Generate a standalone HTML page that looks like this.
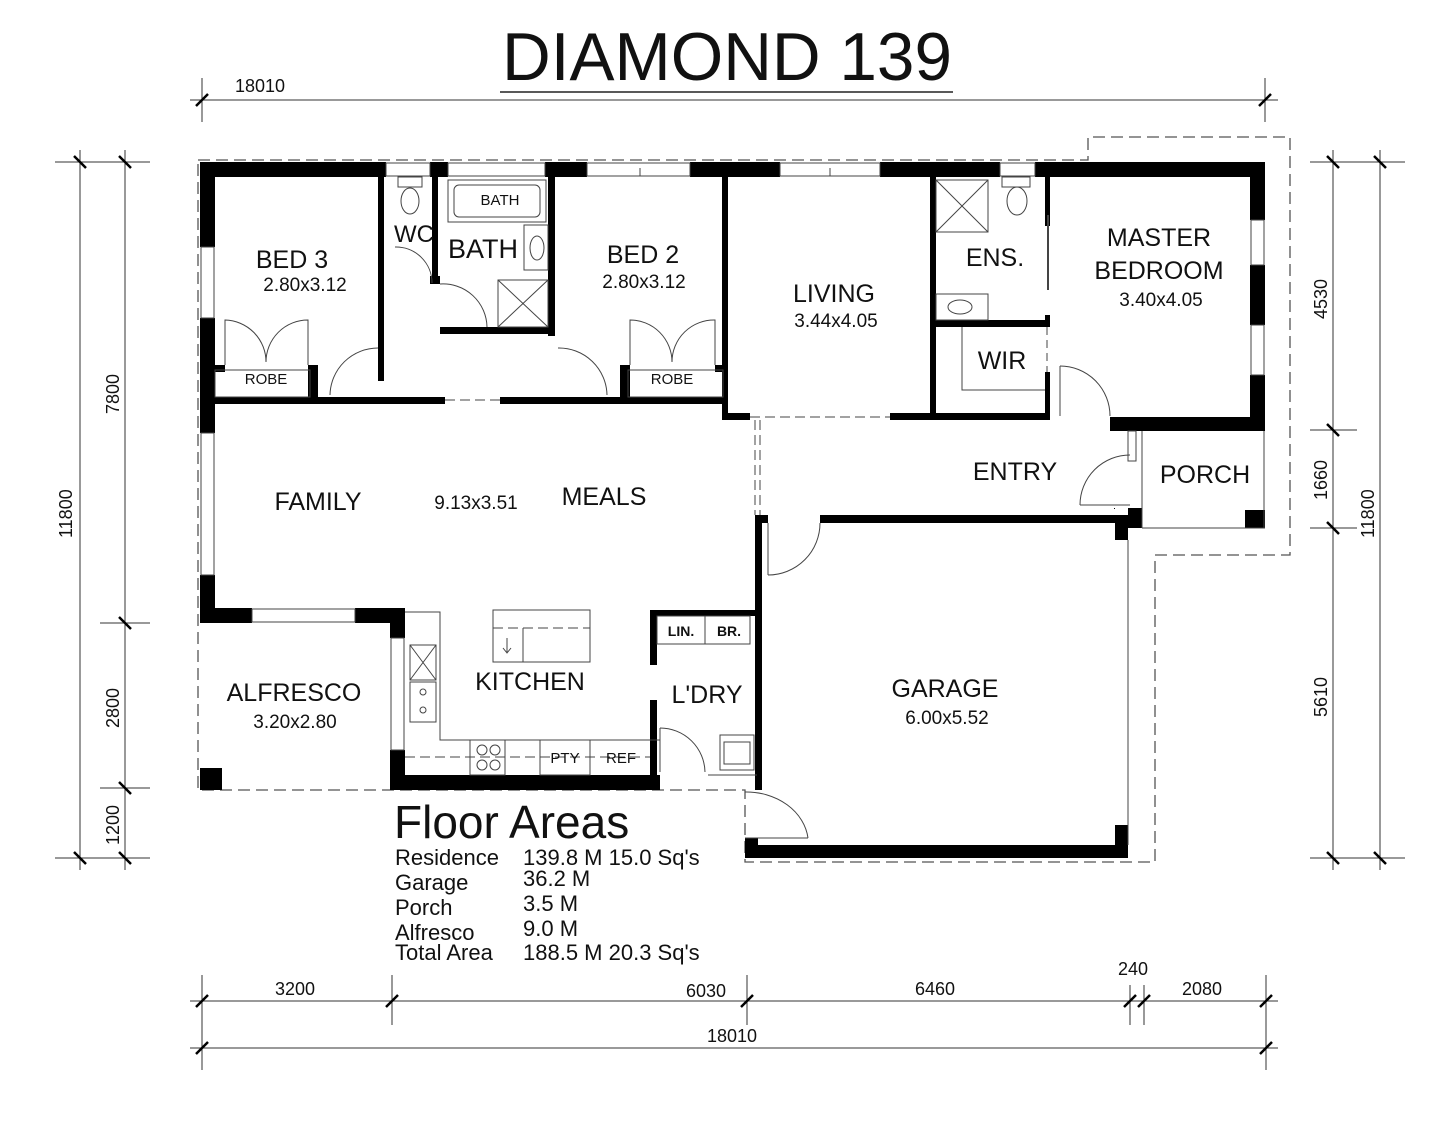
<!DOCTYPE html>
<html><head><meta charset="utf-8"><style>
html,body{margin:0;padding:0;background:#fff;}
svg{display:block;}
text{font-family:"Liberation Sans",sans-serif;fill:#111;}
</style></head><body>
<svg width="1441" height="1128" viewBox="0 0 1441 1128" xmlns="http://www.w3.org/2000/svg">
<rect width="1441" height="1128" fill="#fff"/>
<!-- Title -->
<text x="727" y="80" font-size="68" text-anchor="middle" textLength="450" lengthAdjust="spacingAndGlyphs">DIAMOND 139</text>
<line x1="500" y1="92" x2="953" y2="92" stroke="#222" stroke-width="1.5"/>

<!-- dimension lines -->
<g stroke="#333" stroke-width="1" fill="none">
<line x1="190" y1="100" x2="1278" y2="100"/>
<line x1="202" y1="78" x2="202" y2="122"/><line x1="1265" y1="78" x2="1265" y2="122"/>
<line x1="190" y1="1001" x2="1278" y2="1001"/>
<line x1="190" y1="1048" x2="1278" y2="1048"/>
<line x1="202" y1="975" x2="202" y2="1070"/><line x1="392" y1="975" x2="392" y2="1025"/>
<line x1="747" y1="975" x2="747" y2="1025"/><line x1="1130" y1="985" x2="1130" y2="1025"/>
<line x1="1144" y1="985" x2="1144" y2="1025"/><line x1="1266" y1="975" x2="1266" y2="1070"/>
<line x1="80" y1="150" x2="80" y2="870"/><line x1="125" y1="150" x2="125" y2="870"/>
<line x1="55" y1="162" x2="150" y2="162"/><line x1="100" y1="623" x2="150" y2="623"/>
<line x1="100" y1="788" x2="150" y2="788"/><line x1="55" y1="858" x2="150" y2="858"/>
<line x1="1333" y1="150" x2="1333" y2="870"/><line x1="1380" y1="150" x2="1380" y2="870"/>
<line x1="1310" y1="162" x2="1405" y2="162"/><line x1="1310" y1="430" x2="1357" y2="430"/>
<line x1="1310" y1="528" x2="1357" y2="528"/><line x1="1310" y1="858" x2="1405" y2="858"/>
</g>
<g stroke="#000" stroke-width="2.5">
<line x1="196" y1="106" x2="208" y2="94"/><line x1="1259" y1="106" x2="1271" y2="94"/>
<line x1="196" y1="1007" x2="208" y2="995"/><line x1="386" y1="1007" x2="398" y2="995"/>
<line x1="741" y1="1007" x2="753" y2="995"/><line x1="1124" y1="1007" x2="1136" y2="995"/>
<line x1="1138" y1="1007" x2="1150" y2="995"/><line x1="1260" y1="1007" x2="1272" y2="995"/>
<line x1="196" y1="1054" x2="208" y2="1042"/><line x1="1260" y1="1054" x2="1272" y2="1042"/>
<line x1="74" y1="156" x2="86" y2="168"/><line x1="119" y1="156" x2="131" y2="168"/>
<line x1="119" y1="617" x2="131" y2="629"/><line x1="119" y1="782" x2="131" y2="794"/>
<line x1="74" y1="852" x2="86" y2="864"/><line x1="119" y1="852" x2="131" y2="864"/>
<line x1="1327" y1="156" x2="1339" y2="168"/><line x1="1374" y1="156" x2="1386" y2="168"/>
<line x1="1327" y1="424" x2="1339" y2="436"/><line x1="1327" y1="522" x2="1339" y2="534"/>
<line x1="1327" y1="852" x2="1339" y2="864"/><line x1="1374" y1="852" x2="1386" y2="864"/>
</g>
<g font-size="18">
<text x="235" y="92">18010</text>
<text x="275" y="995">3200</text>
<text x="686" y="997">6030</text>
<text x="915" y="995">6460</text>
<text x="1118" y="975">240</text>
<text x="1182" y="995">2080</text>
<text x="707" y="1042">18010</text>
<text transform="translate(72,538) rotate(-90)">11800</text>
<text transform="translate(119,414) rotate(-90)">7800</text>
<text transform="translate(119,728) rotate(-90)">2800</text>
<text transform="translate(119,845) rotate(-90)">1200</text>
<text transform="translate(1327,319) rotate(-90)">4530</text>
<text transform="translate(1327,500) rotate(-90)">1660</text>
<text transform="translate(1327,717) rotate(-90)">5610</text>
<text transform="translate(1374,538) rotate(-90)">11800</text>
</g>

<!-- dashed outline -->
<path d="M198,160 H1088 V137 H1290 V555 H1155 V862 H745 V790 H198 Z" fill="none" stroke="#555" stroke-width="1.3" stroke-dasharray="12,6"/>

<!-- walls -->
<g fill="#000">
<!-- top wall segments -->
<rect x="200" y="162" width="186" height="15"/>
<rect x="430" y="162" width="18" height="15"/>
<rect x="545" y="162" width="42" height="15"/>
<rect x="690" y="162" width="90" height="15"/>
<rect x="880" y="162" width="120" height="15"/>
<rect x="1035" y="162" width="230" height="15"/>
<!-- left walls -->
<rect x="200" y="162" width="15" height="85"/>
<rect x="200" y="318" width="15" height="115"/>
<rect x="200" y="575" width="15" height="48"/>
<!-- family bottom -->
<rect x="200" y="608" width="52" height="15"/>
<rect x="355" y="608" width="50" height="15"/>
<rect x="390" y="608" width="15" height="30"/>
<rect x="390" y="750" width="15" height="40"/>
<rect x="200" y="768" width="22" height="22"/>
<!-- kitchen bottom -->
<rect x="390" y="775" width="270" height="15"/>
<!-- bedroom row bottom -->
<rect x="200" y="397" width="245" height="7"/>
<rect x="500" y="397" width="228" height="7"/>
<!-- bed3 right -->
<rect x="378" y="176" width="6" height="205"/>
<!-- bed3 robe -->
<rect x="215" y="365" width="10" height="7"/>
<rect x="308" y="365" width="10" height="35"/>
<!-- bed2 robe -->
<rect x="620" y="365" width="10" height="35"/>
<rect x="715" y="365" width="10" height="7"/>
<!-- wc right -->
<rect x="432" y="176" width="6" height="107"/>
<rect x="430" y="276" width="10" height="8"/>
<!-- bath -->
<rect x="440" y="327" width="115" height="7"/>
<rect x="548" y="176" width="7" height="160"/>
<!-- living -->
<rect x="722" y="176" width="6" height="244"/>
<rect x="722" y="413" width="28" height="7"/>
<rect x="890" y="413" width="160" height="7"/>
<rect x="930" y="176" width="6" height="244"/>
<!-- ens/wir -->
<rect x="930" y="320" width="118" height="7"/>
<rect x="1045" y="176" width="5" height="50"/>
<rect x="1045" y="315" width="5" height="12"/>
<rect x="1045" y="372" width="5" height="48"/>
<!-- master right -->
<rect x="1250" y="162" width="15" height="58"/>
<rect x="1250" y="265" width="15" height="60"/>
<rect x="1250" y="375" width="15" height="55"/>
<rect x="1110" y="417" width="155" height="14"/>
<!-- porch -->
<rect x="1245" y="510" width="20" height="18"/>
<rect x="1128" y="508" width="14" height="20"/>
<rect x="1115" y="515" width="13" height="25"/>
<!-- garage -->
<rect x="755" y="515" width="13" height="8"/>
<rect x="820" y="515" width="300" height="8"/>
<rect x="755" y="515" width="7" height="275"/>
<rect x="1115" y="825" width="13" height="33"/>
<rect x="745" y="845" width="383" height="13"/>
<rect x="745" y="838" width="13" height="12"/>
<!-- laundry -->
<rect x="650" y="610" width="107" height="6"/>
<rect x="650" y="610" width="7" height="55"/>
<rect x="650" y="700" width="7" height="90"/>
<rect x="1114" y="508" width="1" height="1"/>
</g>
<!-- windows (thin lines) -->
<g stroke="#444" stroke-width="1" fill="none">
<rect x="386" y="163" width="44" height="13"/>
<rect x="448" y="163" width="97" height="13"/>
<rect x="587" y="163" width="103" height="13"/>
<rect x="780" y="163" width="100" height="13"/>
<rect x="1000" y="163" width="35" height="13"/>
<rect x="201" y="247" width="13" height="71"/>
<rect x="201" y="433" width="13" height="142"/>
<rect x="252" y="609" width="103" height="13"/>
<rect x="1251" y="220" width="13" height="45"/>
<rect x="1251" y="325" width="13" height="50"/>
<rect x="391" y="638" width="13" height="112"/>
<line x1="640" y1="168" x2="640" y2="176"/><line x1="830" y1="168" x2="830" y2="176"/>
<!-- dashed openings -->
<line x1="445" y1="400" x2="500" y2="400" stroke-dasharray="10,5"/>
<line x1="750" y1="417" x2="890" y2="417" stroke-dasharray="10,5"/>
<line x1="755" y1="420" x2="755" y2="515" stroke-dasharray="10,5"/>
<line x1="760" y1="420" x2="760" y2="515" stroke-dasharray="10,5"/>
<line x1="1047" y1="327" x2="1047" y2="372" stroke-dasharray="8,5"/>
<!-- porch outline -->
<line x1="1142" y1="431" x2="1142" y2="528"/>
<line x1="1142" y1="528" x2="1265" y2="528"/>
<line x1="1264" y1="431" x2="1264" y2="528"/>
<line x1="1128" y1="540" x2="1128" y2="845"/>
<!-- robes -->
<rect x="215" y="370" width="95" height="27"/>
<rect x="628" y="370" width="95" height="27"/>
<!-- bathtub -->
<rect x="448" y="180" width="98" height="42"/>
<rect x="454" y="185" width="86" height="32" rx="5"/>
<rect x="524" y="225" width="24" height="45"/>
<ellipse cx="537" cy="248" rx="7" ry="12"/>
<rect x="498" y="280" width="50" height="47"/>
<line x1="498" y1="280" x2="548" y2="327"/><line x1="548" y1="280" x2="498" y2="327"/>
<!-- toilets -->
<rect x="398" y="177" width="24" height="10"/>
<ellipse cx="410" cy="201" rx="9" ry="13"/>
<rect x="1002" y="177" width="28" height="10"/>
<ellipse cx="1017" cy="201" rx="10" ry="14"/>
<!-- ensuite shower -->
<rect x="936" y="180" width="52" height="52"/>
<line x1="936" y1="180" x2="988" y2="232"/><line x1="988" y1="180" x2="936" y2="232"/>
<rect x="936" y="294" width="52" height="26"/>
<ellipse cx="960" cy="307" rx="12" ry="7"/>
<line x1="1048" y1="215" x2="1048" y2="290" stroke-width="2"/>
<!-- WIR -->
<polyline points="962,327 962,390 1045,390"/>
<!-- kitchen island -->
<rect x="493" y="610" width="97" height="52"/>
<line x1="493" y1="628" x2="590" y2="628" stroke-dasharray="10,5"/>
<line x1="523" y1="628" x2="523" y2="662"/>
<line x1="507" y1="638" x2="507" y2="652"/><polyline points="503,648 507,653 511,648"/>
<!-- kitchen benches -->
<polyline points="405,612 440,612 440,740 660,740"/>
<line x1="405" y1="757" x2="650" y2="757" stroke-dasharray="10,5"/>
<rect x="410" y="645" width="26" height="35"/>
<line x1="410" y1="645" x2="436" y2="680"/><line x1="436" y1="645" x2="410" y2="680"/>
<rect x="410" y="682" width="26" height="40"/>
<circle cx="423" cy="692" r="3"/><circle cx="423" cy="710" r="3"/>
<rect x="470" y="740" width="35" height="35"/>
<circle cx="482" cy="750" r="5"/><circle cx="495" cy="750" r="5"/>
<circle cx="482" cy="765" r="5"/><circle cx="495" cy="765" r="5"/>
<rect x="540" y="740" width="50" height="35"/>
<!-- laundry -->
<rect x="657" y="616" width="93" height="28"/>
<line x1="705" y1="616" x2="705" y2="644"/>
<rect x="720" y="735" width="34" height="35"/>
<rect x="724" y="742" width="26" height="22"/>
<line x1="708" y1="775" x2="757" y2="775"/>
<!-- doors -->
<path d="M330,395 A48,48 0 0 1 378,348"/>
<path d="M607,395 A48,48 0 0 0 558,348"/>
<path d="M225,365 V320 A42,42 0 0 1 266,362 A42,42 0 0 1 308,320 V365"/>
<path d="M630,365 V320 A42,42 0 0 1 672,362 A42,42 0 0 1 715,320 V365"/>
<path d="M440,284 A44,44 0 0 1 487,327 V327"/><line x1="440" y1="284" x2="440" y2="284"/>
<path d="M395,247 A36,36 0 0 1 432,283"/>
<path d="M1060,366 A50,50 0 0 1 1110,416"/><line x1="1060" y1="366" x2="1060" y2="416"/>
<path d="M1080,505 A50,50 0 0 1 1130,455"/><line x1="1080" y1="505" x2="1130" y2="505"/>
<rect x="1128" y="431" width="8" height="30"/>
<path d="M768,575 A52,52 0 0 0 820,523"/><line x1="768" y1="523" x2="768" y2="575"/>
<path d="M660,728 A45,45 0 0 1 705,772"/><line x1="660" y1="728" x2="660" y2="772"/>
<path d="M745,792 A62,52 0 0 1 808,838"/><line x1="745" y1="838" x2="808" y2="838"/>
</g>

<!-- room labels -->
<g font-size="25" text-anchor="middle">
<text x="292" y="268">BED 3</text>
<text x="643" y="263">BED 2</text>
<text x="414" y="242" font-size="24">WC</text>
<text x="483" y="258" font-size="27">BATH</text>
<text x="834" y="302">LIVING</text>
<text x="995" y="266">ENS.</text>
<text x="1159" y="246">MASTER</text>
<text x="1159" y="279">BEDROOM</text>
<text x="1002" y="369">WIR</text>
<text x="1015" y="480">ENTRY</text>
<text x="1205" y="483">PORCH</text>
<text x="318" y="510">FAMILY</text>
<text x="604" y="505">MEALS</text>
<text x="294" y="701">ALFRESCO</text>
<text x="530" y="690">KITCHEN</text>
<text x="707" y="703">L'DRY</text>
<text x="945" y="697">GARAGE</text>
</g>
<g font-size="19" text-anchor="middle">
<text x="305" y="291">2.80x3.12</text>
<text x="644" y="288">2.80x3.12</text>
<text x="836" y="327">3.44x4.05</text>
<text x="1161" y="306">3.40x4.05</text>
<text x="476" y="509">9.13x3.51</text>
<text x="295" y="728">3.20x2.80</text>
<text x="947" y="724">6.00x5.52</text>
</g>
<g font-size="15" text-anchor="middle" fill="#333">
<text x="266" y="384">ROBE</text>
<text x="672" y="384">ROBE</text>
<text x="500" y="205">BATH</text>
<text x="565" y="763">PTY</text>
<text x="621" y="763">REF</text>
<text x="681" y="636" font-weight="bold" font-size="14">LIN.</text>
<text x="729" y="636" font-weight="bold" font-size="14">BR.</text>
</g>

<!-- Floor areas -->
<text x="394" y="838" font-size="46">Floor Areas</text>
<g font-size="22">
<text x="395" y="865">Residence</text><text x="523" y="865">139.8 M 15.0 Sq's</text>
<text x="395" y="890">Garage</text><text x="523" y="886">36.2 M</text>
<text x="395" y="915">Porch</text><text x="523" y="911">3.5 M</text>
<text x="395" y="940">Alfresco</text><text x="523" y="936">9.0 M</text>
<text x="395" y="960">Total Area</text><text x="523" y="960">188.5 M 20.3 Sq's</text>
</g>
</svg>
</body></html>
